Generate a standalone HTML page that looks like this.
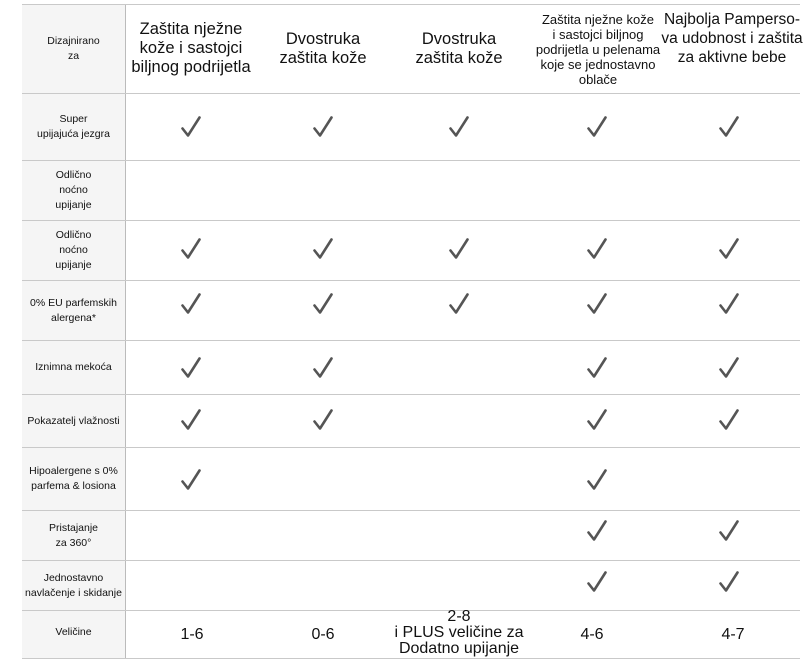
<!DOCTYPE html>
<html><head><meta charset="utf-8"><style>
body{margin:0;width:807px;height:660px;background:#fff;font-family:"Liberation Sans",Arial,sans-serif;position:relative;overflow:hidden;color:#111}
.lab{position:absolute;left:22px;width:103px;background:#f5f5f5;display:flex;align-items:center;justify-content:center;text-align:center;font-size:10.5px;line-height:15px}
.h{position:absolute;top:4px;height:89px;display:flex;align-items:center;justify-content:center;text-align:center;font-size:16.5px;line-height:19px;white-space:nowrap}
.hs{font-size:13px;line-height:15px}
.line{position:absolute;left:22px;width:778px;height:1px;background:#c9c9c9}
.vl{position:absolute;left:125px;top:4px;width:1px;height:654px;background:#bbb}
.c{position:absolute;width:20px;height:22px;margin-left:-10px}
.s{position:absolute;text-align:center;font-size:16px;line-height:16px;transform:translateX(-50%);white-space:nowrap}
</style></head><body>
<div class="lab" style="top:4px;height:89px">Dizajnirano<br>za</div>
<div class="lab" style="top:93px;height:67px">Super<br>upijajuća jezgra</div>
<div class="lab" style="top:161px;height:59px">Odlično<br>noćno<br>upijanje</div>
<div class="lab" style="top:221px;height:59px">Odlično<br>noćno<br>upijanje</div>
<div class="lab" style="top:281px;height:59px">0% EU parfemskih<br>alergena*</div>
<div class="lab" style="top:341px;height:53px">Iznimna mekoća</div>
<div class="lab" style="top:395px;height:52px">Pokazatelj vlažnosti</div>
<div class="lab" style="top:448px;height:62px">Hipoalergene s 0%<br>parfema &amp; losiona</div>
<div class="lab" style="top:511px;height:49px">Pristajanje<br>za 360°</div>
<div class="lab" style="top:561px;height:49px">Jednostavno<br>navlačenje i skidanje</div>
<div class="lab" style="top:611px;height:47px;align-items:flex-start"><span style="margin-top:14px">Veličine</span></div>
<div class="vl"></div>
<div class="line" style="top:4px"></div>
<div class="line" style="top:93px"></div>
<div class="line" style="top:160px"></div>
<div class="line" style="top:220px"></div>
<div class="line" style="top:280px"></div>
<div class="line" style="top:340px"></div>
<div class="line" style="top:394px"></div>
<div class="line" style="top:447px"></div>
<div class="line" style="top:510px"></div>
<div class="line" style="top:560px"></div>
<div class="line" style="top:610px"></div>
<div class="line" style="top:658px"></div>
<div class="h" style="left:126px;width:130px">Zaštita nježne<br>kože i sastojci<br>biljnog podrijetla</div>
<div class="h" style="left:258px;width:130px">Dvostruka<br>zaštita kože</div>
<div class="h" style="left:392px;width:134px">Dvostruka<br>zaštita kože</div>
<div class="h hs" style="left:528px;width:140px;align-items:flex-start;padding-top:8px;height:81px">Zaštita nježne kože<br>i sastojci biljnog<br>podrijetla u pelenama<br>koje se jednostavno<br>oblače</div>
<div class="h" style="left:664px;width:136px;align-items:flex-start;padding-top:6px;height:83px;font-size:15.5px">Najbolja Pamperso-<br>va udobnost i zaštita<br>za aktivne bebe</div>
<div id="checks"></div>
<script>
var cols=[191,323,459,597,729];
var rows=[[127,[1,1,1,1,1]],[249,[1,1,1,1,1]],[304,[1,1,1,1,1]],[368,[1,1,0,1,1]],[420,[1,1,0,1,1]],[480,[1,0,0,1,0]],[531,[0,0,0,1,1]],[582,[0,0,0,1,1]]];
var svg='<svg width="20" height="22" viewBox="0 0 20 22"><path d="M1.5 12.5 L7 19.5 L18.5 1.5" fill="none" stroke="#555" stroke-width="2.6" stroke-linecap="round" stroke-linejoin="round"/></svg>';
var h='';rows.forEach(function(r){r[1].forEach(function(v,i){if(v)h+='<div class="c" style="left:'+cols[i]+'px;top:'+(r[0]-11)+'px">'+svg+'</div>';});});
document.getElementById('checks').innerHTML=h;
</script>
<div class="s" style="left:192px;top:627px">1-6</div>
<div class="s" style="left:323px;top:627px">0-6</div>
<div class="s" style="left:459px;top:609px;line-height:16px">2-8<br>i PLUS veličine za<br>Dodatno upijanje</div>
<div class="s" style="left:592px;top:627px">4-6</div>
<div class="s" style="left:733px;top:627px">4-7</div>
</body></html>
